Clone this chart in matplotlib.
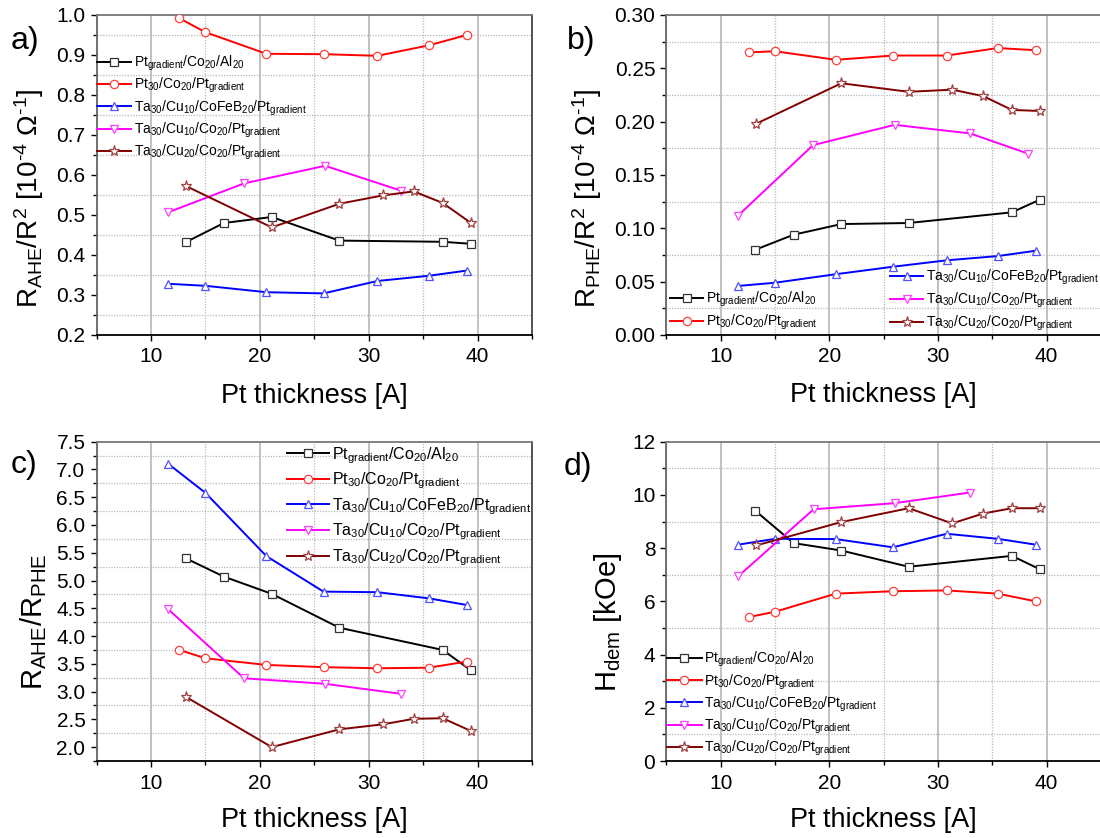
import matplotlib
matplotlib.use("Agg")
import matplotlib.pyplot as plt
from matplotlib.ticker import MultipleLocator, FormatStrFormatter

plt.rcParams['font.family'] = ['Liberation Sans', 'DejaVu Sans']
plt.rcParams['mathtext.fontset'] = 'custom'
plt.rcParams['mathtext.rm'] = 'Liberation Sans'
plt.rcParams['mathtext.it'] = 'Liberation Sans:italic'
plt.rcParams['mathtext.bf'] = 'Liberation Sans:bold'
plt.rcParams['mathtext.default'] = 'regular'

# ---------------- data ----------------
labels = ['Pt$_{gradient}$/Co$_{20}$/Al$_{20}$',
          'Pt$_{30}$/Co$_{20}$/Pt$_{gradient}$',
          'Ta$_{30}$/Cu$_{10}$/CoFeB$_{20}$/Pt$_{gradient}$',
          'Ta$_{30}$/Cu$_{10}$/Co$_{20}$/Pt$_{gradient}$',
          'Ta$_{30}$/Cu$_{20}$/Co$_{20}$/Pt$_{gradient}$']

x_black = [13.2, 16.7, 21.1, 27.3, 36.8, 39.4]
x_red = [12.6, 15.0, 20.6, 25.85, 30.8, 35.5, 39.0]
x_blue = [11.6, 15.0, 20.6, 25.85, 30.8, 35.5, 39.0]
x_mag = [11.6, 18.55, 26.0, 32.95]
x_mag_b = [11.6, 18.5, 26.0, 32.95, 38.3]
x_brown = [13.25, 21.1, 27.3, 31.3, 34.15, 36.8, 39.4]

a_black = [0.432, 0.480, 0.495, 0.436, 0.433, 0.428]
a_red = [0.992, 0.957, 0.903, 0.902, 0.898, 0.924, 0.950]
a_blue = [0.328, 0.323, 0.307, 0.304, 0.335, 0.348, 0.361]
a_mag = [0.507, 0.579, 0.623, 0.561]
a_brown = [0.572, 0.469, 0.528, 0.549, 0.559, 0.530, 0.480]

b_black = [0.080, 0.094, 0.104, 0.105, 0.115, 0.127]
b_red = [0.265, 0.266, 0.258, 0.262, 0.262, 0.269, 0.267]
b_blue = [0.046, 0.049, 0.057, 0.064, 0.070, 0.074, 0.079]
b_mag = [0.112, 0.178, 0.197, 0.189, 0.170]
b_brown = [0.198, 0.236, 0.228, 0.230, 0.224, 0.211, 0.210]

c_black = [5.40, 5.07, 4.76, 4.15, 3.75, 3.38]
c_red = [3.75, 3.60, 3.48, 3.44, 3.42, 3.43, 3.54]
c_blue = [7.10, 6.58, 5.44, 4.80, 4.79, 4.68, 4.56]
c_mag = [4.48, 3.24, 3.14, 2.96]
c_brown = [2.90, 2.00, 2.32, 2.41, 2.51, 2.52, 2.29]

d_black = [9.40, 8.19, 7.91, 7.30, 7.71, 7.20]
d_red = [5.41, 5.61, 6.29, 6.38, 6.41, 6.29, 6.00]
d_blue = [8.13, 8.35, 8.34, 8.03, 8.54, 8.35, 8.13]
d_mag = [6.94, 9.46, 9.69, 10.09]
d_brown = [8.10, 8.98, 9.50, 8.93, 9.30, 9.50, 9.50]

# ---------------- styles ----------------
styles = [
    dict(color='#000000', marker='s', mec='#333333'),
    dict(color='#ff0000', marker='o', mec='#ff4040'),
    dict(color='#0000ff', marker='^', mec='#5050ff'),
    dict(color='#ff00ff', marker='v', mec='#ff40ff'),
    dict(color='#800000', marker='*', mec='#a04040'),
]

W, H = 1100, 838
fig = plt.figure(figsize=(W / 100, H / 100), dpi=100)


def fx(px):
    return px / W


def fy(py):
    return 1 - py / H


def make_ax(left, top, right, bottom):
    return fig.add_axes([fx(left), fy(bottom), fx(right) - fx(left), (bottom - top) / H])


def style_ax(ax, ylim, ymaj, ymin, fmt):
    ax.set_xlim(5, 45)
    ax.set_ylim(*ylim)
    ax.xaxis.set_major_locator(MultipleLocator(10))
    ax.xaxis.set_minor_locator(MultipleLocator(5))
    ax.yaxis.set_major_locator(MultipleLocator(ymaj))
    ax.yaxis.set_minor_locator(MultipleLocator(ymin))
    ax.yaxis.set_major_formatter(FormatStrFormatter(fmt))
    ax.grid(which='major', axis='x', color='#b0b0b0', lw=1.1, ls='-')
    ax.grid(which='minor', axis='x', color='#b8b8b8', lw=0.9, ls=(0, (1, 1.2)))
    ax.grid(which='minor', axis='y', color='#b8b8b8', lw=0.9, ls=(0, (1, 1.2)))
    ax.set_axisbelow(True)
    ax.tick_params(which='major', direction='out', length=4, width=1, labelsize=15, pad=4)
    ax.tick_params(axis='x', which='major', pad=5)
    ax.tick_params(which='minor', direction='out', length=3, width=1)
    ax.spines['bottom'].set_color('#000000')
    ax.spines['left'].set_color('#666666')
    ax.spines['top'].set_color('#777777')
    ax.spines['right'].set_color('#444444')
    for s in ax.spines.values():
        s.set_linewidth(1.3)


def plot_series(ax, xs, ys):
    hs = []
    for i, (x, y) in enumerate(zip(xs, ys)):
        st = styles[i]
        ms = 8 if st['marker'] == '*' else 6
        h, = ax.plot(x, y, color=st['color'], lw=1.4, marker=st['marker'], ms=ms,
                     mfc='white', mec=st['mec'], mew=0.9, label=labels[i], zorder=3)
        hs.append(h)
    return hs


def add_legend(ax, handles, x_px, top_px, fs, hl, ls):
    return ax.legend(handles=handles, loc='upper left',
                     bbox_to_anchor=(fx(x_px), fy(top_px)),
                     bbox_transform=fig.transFigure, frameon=False, fontsize=fs,
                     handlelength=hl, handletextpad=0.2, borderpad=0,
                     borderaxespad=0, labelspacing=ls)


# panel a
axa = make_ax(96.5, 15, 532, 335)
style_ax(axa, (0.2, 1.0), 0.1, 0.05, '%.1f')
ha = plot_series(axa, [x_black, x_red, x_blue, x_mag, x_brown],
                 [a_black, a_red, a_blue, a_mag, a_brown])
axa.set_xlabel('Pt thickness [A]', fontsize=19.5)
axa.xaxis.set_label_coords(0.5, -0.15)
axa.set_ylabel(r'R$_{AHE}$/R$^{2}$ [10$^{\text{-}4}$ Ω$^{\text{-}1}$]', fontsize=20)
axa.yaxis.set_label_coords(-0.117, 0.427)
add_legend(axa, ha, 96.5, 53.5, 10, 2.5, 0.22)

# panel b
axb = make_ax(666.4, 15, 1101, 335)
style_ax(axb, (0.0, 0.30), 0.05, 0.025, '%.2f')
hb = plot_series(axb, [x_black, x_red, x_blue, x_mag_b, x_brown],
                 [b_black, b_red, b_blue, b_mag, b_brown])
axb.set_xlabel('Pt thickness [A]', fontsize=19.5)
axb.xaxis.set_label_coords(0.4985, -0.147)
axb.set_ylabel(r'R$_{PHE}$/R$^{2}$ [10$^{\text{-}4}$ Ω$^{\text{-}1}$]', fontsize=20)
axb.yaxis.set_label_coords(-0.1436, 0.427)
lb1 = add_legend(axb, hb[:2], 670, 290, 10, 2.4, 0.27)
axb.add_artist(lb1)
add_legend(axb, hb[2:], 890, 268, 10, 2.4, 0.27)

# panel c
axc = make_ax(96.5, 441.7, 532, 761)
style_ax(axc, (1.75, 7.5), 0.5, 0.25, '%.1f')
hc = plot_series(axc, [x_black, x_red, x_blue, x_mag, x_brown],
                 [c_black, c_red, c_blue, c_mag, c_brown])
axc.set_xlabel('Pt thickness [A]', fontsize=19.5)
axc.xaxis.set_label_coords(0.5, -0.143)
axc.set_ylabel('R$_{AHE}$/R$_{PHE}$', fontsize=21)
axc.yaxis.set_label_coords(-0.109, 0.436)
add_legend(axc, hc, 287, 445, 11.5, 2.6, 0.31)

# panel d
axd = make_ax(666.4, 441.7, 1101, 761)
style_ax(axd, (0, 12), 2, 1, '%d')
hd = plot_series(axd, [x_black, x_red, x_blue, x_mag, x_brown],
                 [d_black, d_red, d_blue, d_mag, d_brown])
axd.set_xlabel('Pt thickness [A]', fontsize=19.5)
axd.xaxis.set_label_coords(0.4985, -0.145)
axd.set_ylabel('H$_{dem}$ [kOe]', fontsize=21)
axd.yaxis.set_label_coords(-0.098, 0.434)
add_legend(axd, hd, 667, 650, 10, 2.5, 0.21)

# panel letters
for txt, px, py in [('a)', 10.5, 48.5), ('b)', 566.5, 48.5), ('c)', 10.5, 473), ('d)', 564, 475)]:
    fig.text(fx(px), fy(py), txt, fontsize=23, ha='left', va='baseline')

fig.savefig('out.png', dpi=100)
